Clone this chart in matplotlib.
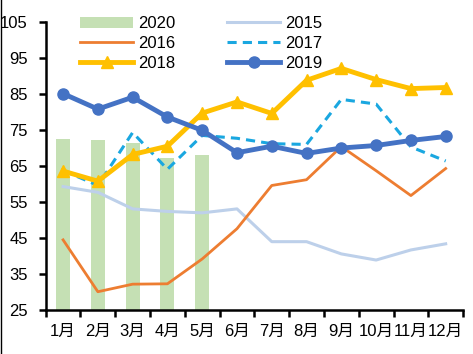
import matplotlib
matplotlib.use("Agg")
import matplotlib.pyplot as plt
from matplotlib.lines import Line2D
import numpy as np

plt.rcParams['font.family'] = ['Liberation Sans', 'Noto Sans CJK SC']

months = ["1月", "2月", "3月", "4月", "5月", "6月", "7月", "8月", "9月", "10月", "11月", "12月"]
s2020 = [72.4, 72.1, 71.4, 67.2, 68.0]
s2015 = [59.3, 57.7, 53.1, 52.4, 52.0, 53.1, 44.0, 44.0, 40.6, 38.9, 41.7, 43.4]
s2016 = [44.5, 30.1, 32.2, 32.3, 39.2, 47.6, 59.6, 61.2, 70.4, 63.7, 56.8, 64.3]
s2017 = [63.8, 59.6, 74.3, 64.1, 73.5, 72.7, 71.2, 71.0, 83.5, 82.2, 70.3, 66.4]
s2018 = [63.6, 60.8, 68.2, 70.5, 79.7, 82.8, 79.6, 88.8, 92.1, 89.0, 86.5, 86.8]
s2019 = [85.1, 80.8, 84.1, 78.6, 74.9, 68.7, 70.5, 68.5, 70.0, 70.7, 72.1, 73.2]
yticks = [25, 35, 45, 55, 65, 75, 85, 95, 105]

fig = plt.figure(figsize=(4.73, 3.54), dpi=100)
ax = fig.add_axes([0.0966, 0.124, 0.8824, 0.814])
x = np.arange(len(months))

ax.bar(x[:len(s2020)], np.array(s2020) - 25, bottom=25, width=0.4, color='#C5E0B4', label='2020', zorder=1)
ax.plot(x, s2015, color='#BDD0EA', lw=2.2, label='2015', zorder=2)
ax.plot(x, s2016, color='#ED7D31', lw=2.0, label='2016', zorder=3)
ax.plot(x, s2017, color='#1AA7E0', lw=2.2, ls=(0, (3, 2)), label='2017', zorder=4)
ax.plot(x, s2018, color='#FFC000', lw=3.5, marker='^', ms=9, label='2018', zorder=5)
ax.plot(x, s2019, color='#4472C4', lw=3.5, marker='o', ms=8, label='2019', zorder=6)

ax.set_xlim(-0.5, 11.5)
ax.set_ylim(25, 105)
ax.set_yticks(yticks)
ax.set_xticks(x)
ax.set_xticklabels(months)
ax.set_xticks(np.arange(-0.5, 12.0, 1.0), minor=True)
ax.tick_params(axis='x', which='major', length=0, pad=10, labelsize=12)
ax.tick_params(axis='x', which='minor', length=5, width=1.8, direction='out')
ax.tick_params(axis='y', length=5, width=1.8, direction='out', labelsize=12, pad=8)
for s in ['top', 'right']:
    ax.spines[s].set_visible(False)
for s in ['left', 'bottom']:
    ax.spines[s].set_linewidth(1.8)

h, l = ax.get_legend_handles_labels()
order = ['2020', '2016', '2018', '2015', '2017', '2019']
hd = dict(zip(l, h))
ax.legend([hd[k] for k in order], order, ncol=2, loc='upper left',
          bbox_to_anchor=(0.082, 1.02), frameon=False, fontsize=12,
          borderpad=0, borderaxespad=0,
          handlelength=3.2, columnspacing=3.1, labelspacing=0.3, handletextpad=0.3)

fig.add_artist(Line2D([0.002, 0.002], [0, 1], transform=fig.transFigure, color='black', lw=1))
fig.savefig('out.png', dpi=100)
